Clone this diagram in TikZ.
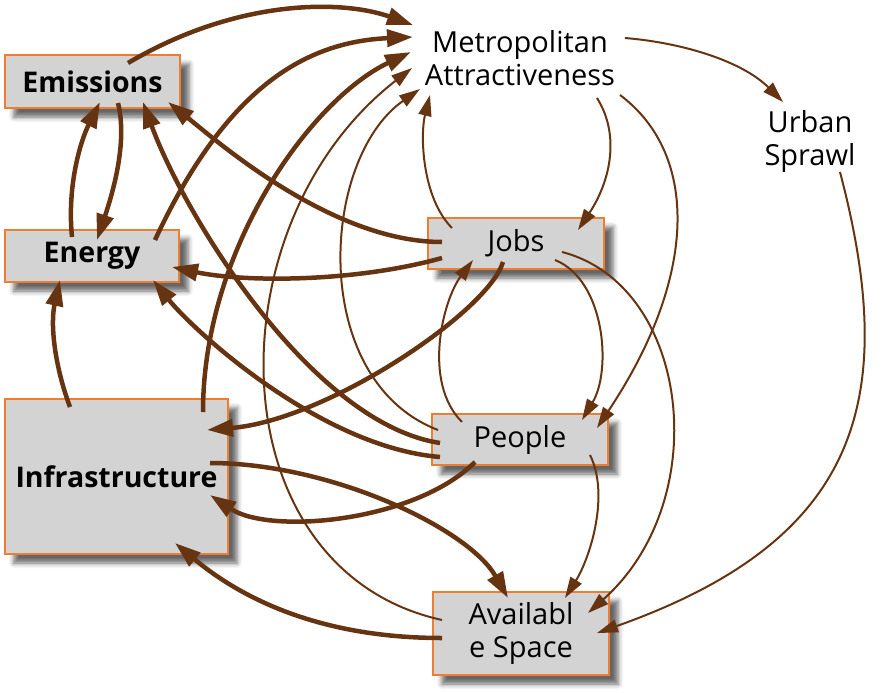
\documentclass[tikz,border=0pt]{standalone}
\usepackage{fontspec}
\setmainfont{Open Sans}
\usetikzlibrary{arrows.meta, calc, shadows.blur}
\definecolor{arrowbrown}{RGB}{103,52,18}
\definecolor{boxorange}{RGB}{237,125,49}
\definecolor{boxgray}{RGB}{211,211,211}

\begin{document}
\begin{tikzpicture}[x=1pt, y=-1pt,
                every node/.style={font=\fontsize{29}{33}\selectfont},
                box/.style={
                  draw=boxorange, line width=1.5pt, fill=boxgray, inner sep=0pt, align=center,
                  blur shadow={shadow xshift=9pt, shadow yshift=-9pt, shadow blur radius=5pt, shadow opacity=60}
                },
                boldbox/.style={box, font=\fontsize{28.5}{33}\selectfont\bfseries},
                bigarrow/.style={draw=arrowbrown, line width=4.5pt, -{Triangle[length=26pt,width=17pt]}},
                smallarrow/.style={draw=arrowbrown, line width=2pt, -{Triangle[length=21pt,width=13pt]}}
              ]
              \useasboundingbox (0,0) rectangle (881,693);
              % boxes
              \node [boldbox, minimum width=175pt, minimum height=53pt] (emis) at (92.5,81.5) {Emissions};
              \node [boldbox, minimum width=174pt, minimum height=52pt] (ener) at (92,256) {Energy};
              \node [boldbox, minimum width=223pt, minimum height=155pt] (infra) at (116.5,476.5) {Infrastructure};
              \node [box, minimum width=176pt, minimum height=51pt] (jobs) at (516,243.5) {Jobs};
              \node [box, minimum width=176pt, minimum height=51pt] (people) at (520,439.5) {People};
              \node [box, minimum width=176pt, minimum height=83pt] (space) at (521,633.5) {Availabl\\e Space};
              % free labels
              \node [align=center] (metro) at (520,58) {Metropolitan\\Attractiveness};
              \node [align=center] (sprawl) at (810,141) {Urban\\Sprawl};
              % thick links
              \draw [bigarrow] ($(emis)+(35.5,-18.5)$) .. controls +(110,-65) and +(-70,-25) .. ($(metro)+(-107,-33)$);
              \draw [bigarrow] ($(ener)+(63,-16)$) .. controls +(70,-150) and +(-110,5) .. ($(metro)+(-107,-21)$);
              \draw [bigarrow] ($(infra)+(86.5,-64.5)$) .. controls +(0,-162) and +(-101,48) .. ($(metro)+(-109,-6)$);
              \draw [bigarrow] ($(infra)+(-46.5,-69.5)$) .. controls +(-15,-40) and +(-10,45) .. ($(ener)+(-32,24)$);
              \draw [bigarrow] ($(emis)+(25.5,21.5)$) .. controls +(10,40) and +(15,-45) .. ($(ener)+(5,-16)$);
              \draw [bigarrow] ($(ener)+(-20,-19)$) .. controls +(-5,-50) and +(-20,40) .. ($(emis)+(7.5,20.5)$);
              \draw [bigarrow] ($(jobs)+(-74,-1.5)$) .. controls +(-110,0) and +(50,40) .. ($(emis)+(75.5,20.5)$);
              \draw [bigarrow] ($(jobs)+(-74,14.5)$) .. controls +(-90,25) and +(70,15) .. ($(ener)+(80,11)$);
              \draw [bigarrow] ($(jobs)+(-13,18.5)$) .. controls +(-15,50) and +(120,-10) .. ($(infra)+(90.5,-46.5)$);
              \draw [bigarrow] ($(people)+(-80,3.5)$) .. controls +(-130,-20) and +(40,110) .. ($(emis)+(50.5,20.5)$);
              \draw [bigarrow] ($(people)+(-80,17.5)$) .. controls +(-120,-10) and +(40,50) .. ($(ener)+(61,24)$);
              \draw [bigarrow] ($(people)+(-45,22.5)$) .. controls +(-60,60) and +(60,40) .. ($(infra)+(93.5,18.5)$);
              \draw [bigarrow] ($(infra)+(93.5,-13.5)$) .. controls +(120,0) and +(-40,-70) .. ($(space)+(-13,-35.5)$);
              \draw [bigarrow] ($(space)+(-79,4.5)$) .. controls +(-130,0) and +(60,50) .. ($(infra)+(58.5,66.5)$);
              % thin links
              \draw [smallarrow] ($(metro)+(105,-20)$) .. controls +(60,5) and +(-40,-40) .. ($(sprawl)+(-27,-39)$);
              \draw [smallarrow] ($(sprawl)+(30,31)$) .. controls +(60,228) and +(263,-93) .. ($(space)+(76,-0.5)$);
              \draw [smallarrow] ($(metro)+(77,40)$) .. controls +(25,40) and +(30,-45) .. ($(jobs)+(62,-13.5)$);
              \draw [smallarrow] ($(metro)+(100,37)$) .. controls +(80,60) and +(100,-150) .. ($(people)+(77,-11.5)$);
              \draw [smallarrow] ($(jobs)+(-64,-15.5)$) .. controls +(-30,-30) and +(-10,40) .. ($(metro)+(-90,37)$);
              \draw [smallarrow] ($(people)+(-82,-9.5)$) .. controls +(-130,-50) and +(-100,70) .. ($(metro)+(-100,31)$);
              \draw [smallarrow] ($(space)+(-79,-13.5)$) .. controls +(-227,-50) and +(-202,157) .. ($(metro)+(-108,10)$);
              \draw [smallarrow] ($(people)+(-58,-17.5)$) .. controls +(-40,-40) and +(-30,40) .. ($(jobs)+(-43,16.5)$);
              \draw [smallarrow] ($(jobs)+(39,16.5)$) .. controls +(50,20) and +(30,-50) .. ($(people)+(62,-19.5)$);
              \draw [smallarrow] ($(jobs)+(46,8.5)$) .. controls +(128,33) and +(127,-113) .. ($(space)+(67,-20.5)$);
              \draw [smallarrow] ($(people)+(70,15.5)$) .. controls +(20,40) and +(25,-40) .. ($(space)+(44,-35.5)$);
            \end{tikzpicture}
\end{document}
